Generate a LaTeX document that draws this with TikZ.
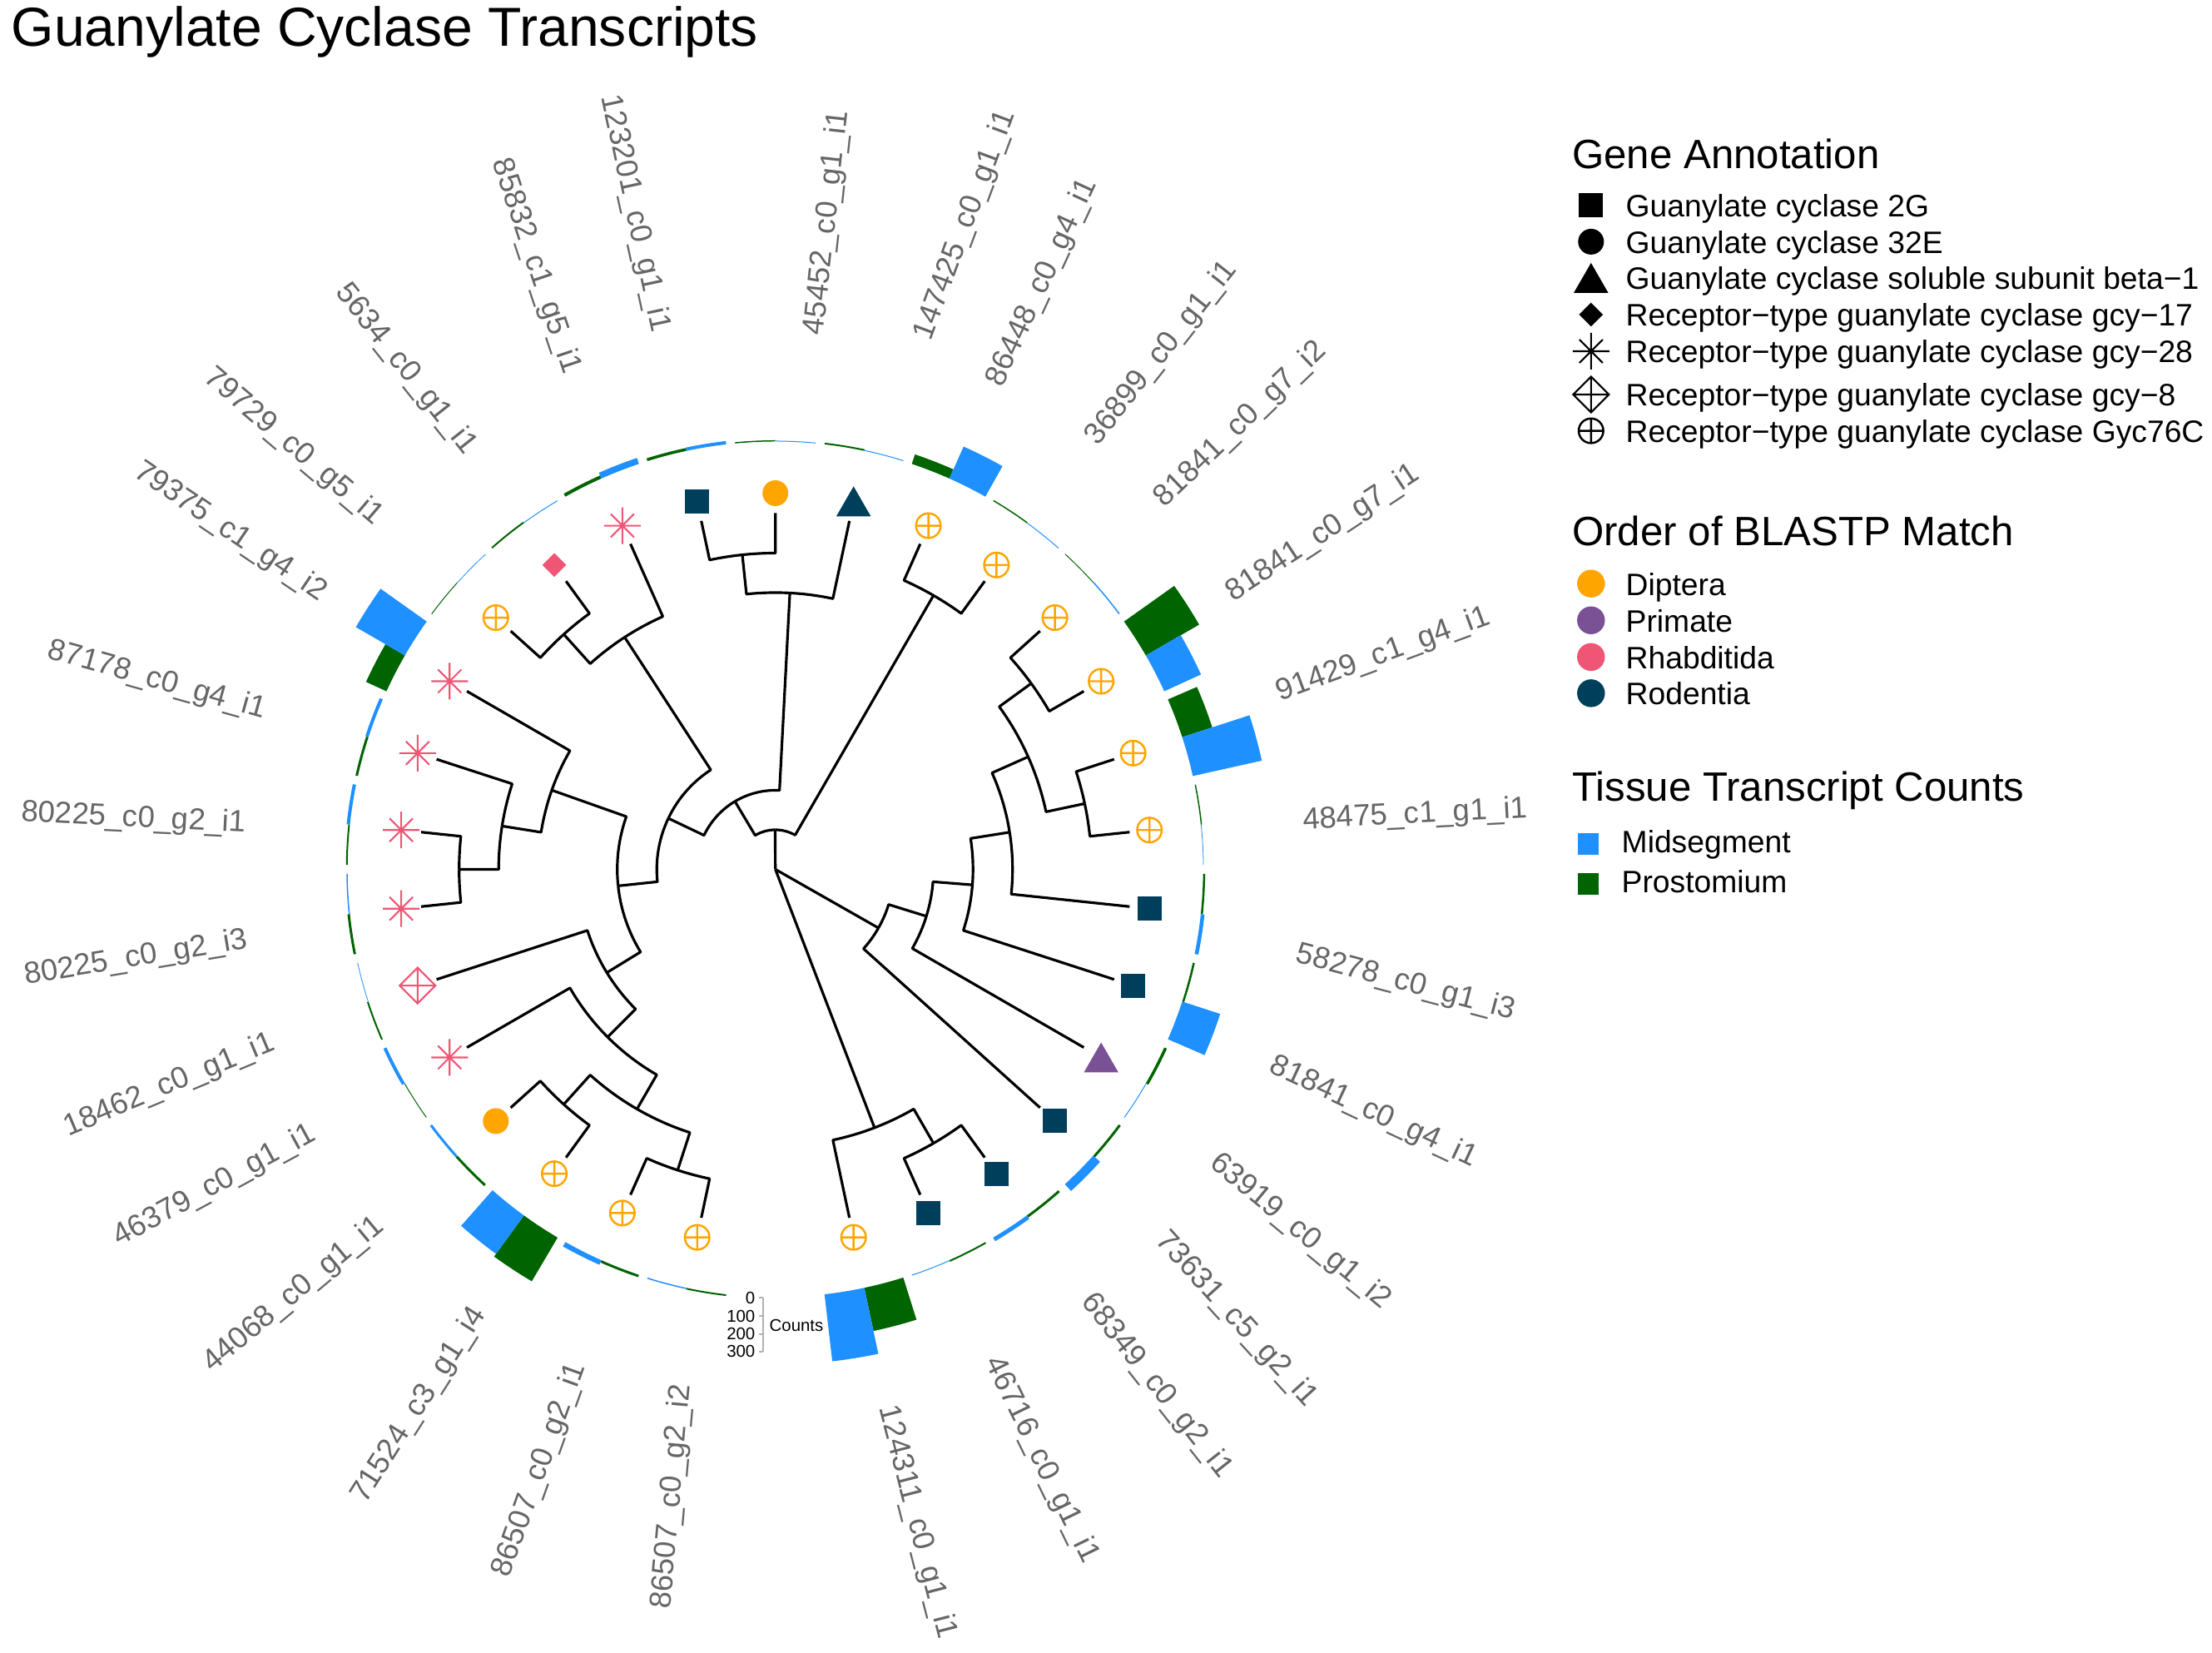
\documentclass[tikz,border=0pt]{standalone}
\usepackage{fontspec}
\setmainfont{Liberation Sans}
\usetikzlibrary{calc}
\definecolor{dip}{HTML}{FFA500}
\definecolor{pri}{HTML}{7A5195}
\definecolor{rha}{HTML}{EF5675}
\definecolor{rod}{HTML}{003F5C}
\definecolor{mid}{HTML}{1E90FF}
\definecolor{pro}{HTML}{006400}
\definecolor{labgray}{HTML}{666666}
\newcommand\legfont{\fontsize{10.6}{13}\selectfont}
\newcommand\legtitlefont{\fontsize{14}{17}\selectfont}
\newcommand\axfont{\fontsize{5.8}{7}\selectfont}
\tikzset{
  br/.style={line width=0.9pt, line join=round},
  lab/.style={text=labgray, font=\fontsize{10.4}{12}\selectfont, inner sep=0pt},
  legtxt/.style={anchor=base west, font=\legfont, inner sep=0pt},
  legttl/.style={anchor=base west, font=\legtitlefont, inner sep=0pt},
  pics/psq/.style={code={\fill[#1] (-0.145,-0.145) rectangle (0.145,0.145);}},
  pics/pci/.style={code={\fill[#1] (0,0) circle[radius=0.155];}},
  pics/ptri/.style={code={\fill[#1] (0,0.18) -- (-0.2075,-0.18) -- (0.2075,-0.18) -- cycle;}},
  pics/poplus/.style={code={\draw[#1, line width=0.7pt] (0,0) circle[radius=0.148] (-0.148,0) -- (0.148,0) (0,-0.148) -- (0,0.148);}},
  pics/pstar/.style={code={\draw[#1, line width=0.6pt] (-0.22,0) -- (0.22,0) (0,-0.22) -- (0,0.22) (-0.14,-0.14) -- (0.14,0.14) (-0.14,0.14) -- (0.14,-0.14);}},
  pics/pdia/.style={code={\fill[#1] (0,0.143) -- (0.143,0) -- (0,-0.143) -- (-0.143,0) -- cycle;}},
  pics/pdplus/.style={code={\draw[#1, line width=0.6pt, line join=miter] (0,0.215) -- (0.215,0) -- (0,-0.215) -- (-0.215,0) -- cycle (-0.215,0) -- (0.215,0) (0,-0.215) -- (0,0.215);}},
}
% parent radius, parent angle, child angle, child radius
\newcommand\tredge[4]{\draw[br] (#2:#1) arc[start angle=#2, end angle=#3, radius=#1] -- (#3:#4);}
% a1, a2, height, colour
\newcommand\ringbar[4]{%
  \pgfmathsetmacro\rbout{5.14+#3}%
  \fill[#4] (#1:5.14) arc[start angle=#1, end angle=#2, radius=5.14] -- (#2:\rbout) arc[start angle=#2, end angle=#1, radius=\rbout] -- cycle;}
% slot angle, prostomium height, midsegment height
\newcommand\slotbars[3]{%
  \pgfmathsetmacro\slA{#1+5.4}\pgfmathsetmacro\slB{#1-5.4}%
  \ringbar{#1}{\slA}{#2}{pro}\ringbar{\slB}{#1}{#3}{mid}}

\begin{document}
\begin{tikzpicture}
\fill[white] (0,0) rectangle (26.58,19.86);
\useasboundingbox (0,0) rectangle (26.58,19.86);

\node[anchor=base west, inner sep=0pt, font=\fontsize{18.8}{22}\selectfont] (title) at (0.13,19.30) {Guanylate Cyclase Transcripts};

\coordinate (C) at (9.317,9.415);
\begin{scope}[shift={(C)}]
  % ring bars
  \slotbars{102}{0.035}{0.04}
  \slotbars{90}{0.015}{0.01}
  \slotbars{78}{0.02}{0.01}
  \slotbars{66}{0.12}{0.42}
  \slotbars{54}{0.015}{0.01}
  \slotbars{42}{0.01}{0.015}
  \slotbars{30}{0.74}{0.485}
  \slotbars{18}{0.38}{0.85}
  \slotbars{6}{0.015}{0.008}
  \slotbars{-6}{0.025}{0.045}
  \slotbars{-18}{0.025}{0.48}
  \slotbars{-30}{0.035}{0.01}
  \slotbars{-42}{0.03}{0.11}
  \slotbars{-54}{0.03}{0.05}
  \slotbars{-66}{0.02}{0.01}
  \slotbars{-78}{0.53}{0.81}
  \slotbars{258}{0.02}{0.015}
  \slotbars{246}{0.03}{0.06}
  \slotbars{234}{0.61}{0.57}
  \slotbars{222}{0.03}{0.03}
  \slotbars{210}{0.01}{0.04}
  \slotbars{198}{0.02}{0.008}
  \slotbars{186}{0.03}{0.015}
  \slotbars{174}{0.02}{0.04}
  \slotbars{162}{0.03}{0.04}
  \slotbars{150}{0.27}{0.68}
  \slotbars{138}{0.01}{0.008}
  \slotbars{126}{0.02}{0.01}
  \slotbars{114}{0.04}{0.075}

  % tree
  \draw[br] (0,0) -- (90.375:0.475);
  \draw[br] (0,0) -- (-29.625:1.425);
  \draw[br] (0,0) -- (-69:3.325);
  \tredge{0.475}{90.375}{120.75}{0.95}
  \tredge{0.475}{90.375}{60}{3.8}
  \tredge{0.95}{120.75}{87}{3.325}
  \tredge{0.95}{120.75}{154.5}{1.425}
  \tredge{3.325}{87}{96}{3.8}
  \tredge{3.325}{87}{78}{4.28}
  \tredge{3.8}{96}{90}{4.28}
  \tredge{3.8}{96}{102}{4.28}
  \tredge{1.425}{154.5}{123}{3.325}
  \tredge{1.425}{154.5}{186}{1.9}
  \tredge{3.325}{123}{132}{3.8}
  \tredge{3.325}{123}{114}{4.28}
  \tredge{3.8}{132}{126}{4.28}
  \tredge{3.8}{132}{138}{4.28}
  \tredge{1.9}{186}{160.5}{2.85}
  \tredge{1.9}{186}{211.5}{2.375}
  \tredge{2.85}{160.5}{150}{4.28}
  \tredge{2.85}{160.5}{171}{3.325}
  \tredge{3.325}{171}{162}{4.28}
  \tredge{3.325}{171}{180}{3.8}
  \tredge{3.8}{180}{174}{4.28}
  \tredge{3.8}{180}{186}{4.28}
  \tredge{2.375}{211.5}{198}{4.28}
  \tredge{2.375}{211.5}{225}{2.85}
  \tredge{2.85}{225}{210}{4.28}
  \tredge{2.85}{225}{240}{3.325}
  \tredge{3.325}{240}{228}{3.8}
  \tredge{3.325}{240}{252}{3.8}
  \tredge{3.8}{228}{222}{4.28}
  \tredge{3.8}{228}{234}{4.28}
  \tredge{3.8}{252}{246}{4.28}
  \tredge{3.8}{252}{258}{4.28}
  \tredge{3.8}{60}{54}{4.28}
  \tredge{3.8}{60}{66}{4.28}
  \tredge{1.425}{-29.625}{-42}{4.28}
  \tredge{1.425}{-29.625}{-17.25}{1.9}
  \tredge{1.9}{-17.25}{-30}{4.28}
  \tredge{1.9}{-17.25}{-4.5}{2.375}
  \tredge{2.375}{-4.5}{-18}{4.28}
  \tredge{2.375}{-4.5}{9}{2.85}
  \tredge{2.85}{9}{-6}{4.28}
  \tredge{2.85}{9}{24}{3.325}
  \tredge{3.325}{24}{12}{3.8}
  \tredge{3.325}{24}{36}{3.8}
  \tredge{3.8}{12}{6}{4.28}
  \tredge{3.8}{12}{18}{4.28}
  \tredge{3.8}{36}{30}{4.28}
  \tredge{3.8}{36}{42}{4.28}
  \tredge{3.325}{-69}{-78}{4.28}
  \tredge{3.325}{-69}{-60}{3.8}
  \tredge{3.8}{-60}{-66}{4.28}
  \tredge{3.8}{-60}{-54}{4.28}

  % tips
  \pic (t01) at (102:4.52) {psq=rod};
  \pic (t02) at (90:4.52) {pci=dip};
  \pic (t03) at (78:4.52) {ptri=rod};
  \pic (t04) at (66:4.52) {poplus=dip};
  \pic (t05) at (54:4.52) {poplus=dip};
  \pic (t06) at (42:4.52) {poplus=dip};
  \pic (t07) at (30:4.52) {poplus=dip};
  \pic (t08) at (18:4.52) {poplus=dip};
  \pic (t09) at (6:4.52) {poplus=dip};
  \pic (t10) at (-6:4.52) {psq=rod};
  \pic (t11) at (-18:4.52) {psq=rod};
  \pic (t12) at (-30:4.52) {ptri=pri};
  \pic (t13) at (-42:4.52) {psq=rod};
  \pic (t14) at (-54:4.52) {psq=rod};
  \pic (t15) at (-66:4.52) {psq=rod};
  \pic (t16) at (-78:4.52) {poplus=dip};
  \pic (t17) at (258:4.52) {poplus=dip};
  \pic (t18) at (246:4.52) {poplus=dip};
  \pic (t19) at (234:4.52) {poplus=dip};
  \pic (t20) at (222:4.52) {pci=dip};
  \pic (t21) at (210:4.52) {pstar=rha};
  \pic (t22) at (198:4.52) {pdplus=rha};
  \pic (t23) at (186:4.52) {pstar=rha};
  \pic (t24) at (174:4.52) {pstar=rha};
  \pic (t25) at (162:4.52) {pstar=rha};
  \pic (t26) at (150:4.52) {pstar=rha};
  \pic (t27) at (138:4.52) {poplus=dip};
  \pic (t28) at (126:4.52) {pdia=rha};
  \pic (t29) at (114:4.52) {pstar=rha};
\end{scope}

% count axis
\draw[gray!60, line width=0.5pt] (9.17,4.27) -- (9.17,3.623);
\foreach \yy in {4.27,4.047,3.833,3.623} \draw[gray!60, line width=0.5pt] (9.12,\yy) -- (9.17,\yy);
\node[anchor=east, font=\axfont, inner sep=0pt] (ax0) at (9.08,4.27) {0};
\node[anchor=east, font=\axfont, inner sep=0pt] (ax1) at (9.08,4.047) {100};
\node[anchor=east, font=\axfont, inner sep=0pt] (ax2) at (9.08,3.833) {200};
\node[anchor=east, font=\axfont, inner sep=0pt] (ax3) at (9.08,3.623) {300};
\node[anchor=west, font=\axfont, inner sep=0pt] (axt) at (9.24,3.94) {Counts};

% tip labels, right side
\node[lab, anchor=mid west, rotate=83.7] (l01) at (9.795,15.83) {45452\_c0\_g1\_i1};
\node[lab, anchor=mid west, rotate=69.6] (l02) at (11.093,15.783) {147425\_c0\_g1\_i1};
\node[lab, anchor=mid west, rotate=65.2] (l03) at (11.957,15.229) {86448\_c0\_g4\_i1};
\node[lab, anchor=mid west, rotate=51.7] (l04) at (13.117,14.55) {36899\_c0\_g1\_i1};
\node[lab, anchor=mid west, rotate=43.8] (l05) at (13.928,13.817) {81841\_c0\_g7\_i2};
\node[lab, anchor=mid west, rotate=33.3] (l06) at (14.764,12.703) {81841\_c0\_g7\_i1};
\node[lab, anchor=mid west, rotate=20.2] (l07) at (15.346,11.521) {91429\_c1\_g4\_i1};
\node[lab, anchor=mid west, rotate=3.0] (l08) at (15.65,9.991) {48475\_c1\_g1\_i1};
\node[lab, anchor=mid west, rotate=-14.8] (l09) at (15.574,8.394) {58278\_c0\_g1\_i3};
\node[lab, anchor=mid west, rotate=-25] (l10) at (15.271,7.069) {81841\_c0\_g4\_i1};
\node[lab, anchor=mid west, rotate=-39.7] (l11) at (14.577,5.93) {63919\_c0\_g1\_i2};
\node[lab, anchor=mid west, rotate=-47.8] (l12) at (13.943,5.016) {73631\_c5\_g2\_i1};
\node[lab, anchor=mid west, rotate=-51.7] (l13) at (13.054,4.274) {68349\_c0\_g2\_i1};
\node[lab, anchor=mid west, rotate=-64] (l14) at (11.915,3.537) {46716\_c0\_g1\_i1};
\node[lab, anchor=mid west, rotate=-75.5] (l15) at (10.649,2.971) {124311\_c0\_g1\_i1};
% tip labels, left side
\node[lab, anchor=mid east, rotate=85] (l16) at (8.198,3.23) {86507\_c0\_g2\_i2};
\node[lab, anchor=mid east, rotate=70.2] (l17) at (6.947,3.477) {86507\_c0\_g2\_i1};
\node[lab, anchor=mid east, rotate=57.5] (l18) at (5.768,4.121) {71524\_c3\_g1\_i4};
\node[lab, anchor=mid east, rotate=39.9] (l19) at (4.573,5.173) {44068\_c0\_g1\_i1};
\node[lab, anchor=mid east, rotate=28.5] (l20) at (3.775,6.255) {46379\_c0\_g1\_i1};
\node[lab, anchor=mid east, rotate=22.7] (l21) at (3.289,7.341) {18462\_c0\_g1\_i1};
\node[lab, anchor=mid east, rotate=9.35] (l22) at (2.977,8.564) {80225\_c0\_g2\_i3};
\node[lab, anchor=mid east, rotate=-2.9] (l23) at (2.963,9.953) {80225\_c0\_g2\_i1};
\node[lab, anchor=mid east, rotate=-15.6] (l24) at (3.195,11.316) {87178\_c0\_g4\_i1};
\node[lab, anchor=mid east, rotate=-34.1] (l25) at (3.891,12.707) {79375\_c1\_g4\_i2};
\node[lab, anchor=mid east, rotate=-40.45] (l26) at (4.558,13.607) {79729\_c0\_g5\_i1};
\node[lab, anchor=mid east, rotate=-51.6] (l27) at (5.656,14.437) {5634\_c0\_g1\_i1};
\node[lab, anchor=mid east, rotate=-71.5] (l28) at (6.866,15.37) {85832\_c1\_g5\_i1};
\node[lab, anchor=mid east, rotate=-77.8] (l29) at (7.932,15.868) {123201\_c0\_g1\_i1};

% legend: gene annotation
\node[legttl] (lgA) at (18.886,17.838) {Gene Annotation};
\pic (kA1) at (19.118,17.397) {psq=black};
\pic (kA2) at (19.118,16.956) {pci=black};
\pic (kA3) at (19.118,16.521) {ptri=black};
\pic (kA4) at (19.118,16.08) {pdia=black};
\pic (kA5) at (19.118,15.64) {pstar=black};
\pic (kA6) at (19.118,15.12) {pdplus=black};
\pic (kA7) at (19.118,14.684) {poplus=black};
\node[legtxt] (lA1) at (19.53,17.257) {Guanylate cyclase 2G};
\node[legtxt] (lA2) at (19.53,16.816) {Guanylate cyclase 32E};
\node[legtxt] (lA3) at (19.53,16.381) {Guanylate cyclase soluble subunit beta−1};
\node[legtxt] (lA4) at (19.53,15.94) {Receptor−type guanylate cyclase gcy−17};
\node[legtxt] (lA5) at (19.53,15.50) {Receptor−type guanylate cyclase gcy−28};
\node[legtxt] (lA6) at (19.53,14.98) {Receptor−type guanylate cyclase gcy−8};
\node[legtxt] (lA7) at (19.53,14.544) {Receptor−type guanylate cyclase Gyc76C};

% legend: order
\node[legttl] (lgB) at (18.886,13.307) {Order of BLASTP Match};
\fill[dip] (19.118,12.848) circle[radius=0.167];
\fill[pri] (19.118,12.407) circle[radius=0.167];
\fill[rha] (19.118,11.966) circle[radius=0.167];
\fill[rod] (19.118,11.531) circle[radius=0.167];
\node[legtxt] (lB1) at (19.53,12.708) {Diptera};
\node[legtxt] (lB2) at (19.53,12.267) {Primate};
\node[legtxt] (lB3) at (19.53,11.826) {Rhabditida};
\node[legtxt] (lB4) at (19.53,11.391) {Rodentia};

% legend: tissue
\node[legttl] (lgC) at (18.886,10.233) {Tissue Transcript Counts};
\fill[mid] (18.96,9.59) rectangle (19.21,9.85);
\fill[pro] (18.96,9.11) rectangle (19.21,9.37);
\node[legtxt] (lC1) at (19.48,9.61) {Midsegment};
\node[legtxt] (lC2) at (19.48,9.13) {Prostomium};
\end{tikzpicture}
\end{document}
